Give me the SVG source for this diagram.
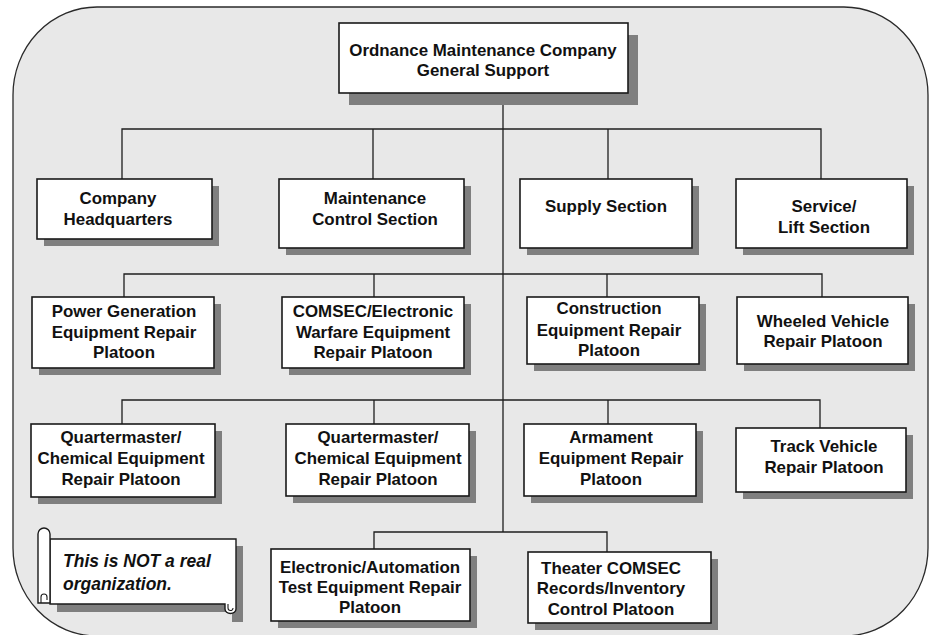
<svg xmlns="http://www.w3.org/2000/svg" width="929" height="635" viewBox="0 0 929 635">
  <style>
    .frame { fill: #e8e8e8; stroke: #2a2a2a; stroke-width: 1.3; }
    .shadow { fill: #7f7f7f; }
    .box { fill: #ffffff; stroke: #1a1a1a; stroke-width: 1.6; }
    .wire { fill: none; stroke: #1e1e1e; stroke-width: 1.3; }
    .t { font-family: "Liberation Sans", Arial, sans-serif; font-weight: bold; font-size: 16.9px; text-anchor: middle; fill: #111; }
    .note { font-family: "Liberation Sans", Arial, sans-serif; font-weight: bold; font-style: italic; font-size: 17.5px; fill: #111; }
    .scroll { fill: #ffffff; stroke: #1a1a1a; stroke-width: 1.4; }
  </style>

  <rect x="0" y="0" width="929" height="635" fill="#ffffff"/>
  <!-- rounded backdrop -->
  <rect class="frame" x="13" y="7" width="915" height="629" rx="84" ry="88"/>

  <!-- connectors -->
  <g id="connectors" class="wire">
    <line x1="503" y1="93" x2="503" y2="532"/>
    <!-- tier 1 -->
    <polyline points="122,179 122,129 821,129 821,179"/>
    <line x1="373" y1="129" x2="373" y2="179"/>
    <line x1="608" y1="129" x2="608" y2="179"/>
    <!-- tier 2 -->
    <polyline points="124,297 124,274 822,274 822,297"/>
    <line x1="374" y1="274" x2="374" y2="297"/>
    <line x1="607" y1="274" x2="607" y2="297"/>
    <!-- tier 3 -->
    <polyline points="122,424 122,400 820,400 820,428"/>
    <line x1="374" y1="400" x2="374" y2="424"/>
    <line x1="608" y1="400" x2="608" y2="424"/>
    <!-- tier 4 -->
    <polyline points="374,549 374,532 607,532 607,552"/>
  </g>

  <g id="ordnance-company">
    <rect class="shadow" x="349" y="35" width="289" height="70"/>
    <rect class="box" x="339" y="23" width="289" height="70"/>
    <text class="t" x="483" y="56">Ordnance Maintenance Company</text>
    <text class="t" x="483" y="76">General Support</text>
  </g>

  <g id="company-hq">
    <rect class="shadow" x="44" y="186" width="175" height="60"/>
    <rect class="box" x="37" y="179" width="175" height="60"/>
    <text class="t" x="118" y="204">Company</text>
    <text class="t" x="118" y="225">Headquarters</text>
  </g>

  <g id="maintenance-control">
    <rect class="shadow" x="286" y="186" width="185" height="69"/>
    <rect class="box" x="279" y="179" width="185" height="69"/>
    <text class="t" x="375" y="204">Maintenance</text>
    <text class="t" x="375" y="225">Control Section</text>
  </g>

  <g id="supply-section">
    <rect class="shadow" x="527" y="186" width="172" height="69"/>
    <rect class="box" x="520" y="179" width="172" height="69"/>
    <text class="t" x="606" y="212">Supply Section</text>
  </g>

  <g id="service-lift">
    <rect class="shadow" x="743" y="186" width="171" height="69"/>
    <rect class="box" x="736" y="179" width="171" height="69"/>
    <text class="t" x="824" y="212">Service/</text>
    <text class="t" x="824" y="233">Lift Section</text>
  </g>

  <g id="power-generation">
    <rect class="shadow" x="39" y="304" width="182" height="71"/>
    <rect class="box" x="32" y="297" width="182" height="71"/>
    <text class="t" x="124" y="317">Power Generation</text>
    <text class="t" x="124" y="338">Equipment Repair</text>
    <text class="t" x="124" y="358">Platoon</text>
  </g>

  <g id="comsec-ew">
    <rect class="shadow" x="289" y="304" width="182" height="71"/>
    <rect class="box" x="282" y="297" width="182" height="71"/>
    <text class="t" x="373" y="317">COMSEC/Electronic</text>
    <text class="t" x="373" y="338">Warfare Equipment</text>
    <text class="t" x="373" y="358">Repair Platoon</text>
  </g>

  <g id="construction">
    <rect class="shadow" x="534" y="304" width="172" height="67"/>
    <rect class="box" x="527" y="297" width="172" height="67"/>
    <text class="t" x="609" y="314">Construction</text>
    <text class="t" x="609" y="336">Equipment Repair</text>
    <text class="t" x="609" y="356">Platoon</text>
  </g>

  <g id="wheeled-vehicle">
    <rect class="shadow" x="744" y="304" width="171" height="67"/>
    <rect class="box" x="737" y="297" width="171" height="67"/>
    <text class="t" x="823" y="327">Wheeled Vehicle</text>
    <text class="t" x="823" y="347">Repair Platoon</text>
  </g>

  <g id="quartermaster-1">
    <rect class="shadow" x="38" y="431" width="184" height="73"/>
    <rect class="box" x="31" y="424" width="184" height="73"/>
    <text class="t" x="121" y="443">Quartermaster/</text>
    <text class="t" x="121" y="464">Chemical Equipment</text>
    <text class="t" x="121" y="485">Repair Platoon</text>
  </g>

  <g id="quartermaster-2">
    <rect class="shadow" x="293" y="431" width="183" height="72"/>
    <rect class="box" x="286" y="424" width="183" height="72"/>
    <text class="t" x="378" y="443">Quartermaster/</text>
    <text class="t" x="378" y="464">Chemical Equipment</text>
    <text class="t" x="378" y="485">Repair Platoon</text>
  </g>

  <g id="armament">
    <rect class="shadow" x="531" y="431" width="172" height="72"/>
    <rect class="box" x="524" y="424" width="172" height="72"/>
    <text class="t" x="611" y="443">Armament</text>
    <text class="t" x="611" y="464">Equipment Repair</text>
    <text class="t" x="611" y="485">Platoon</text>
  </g>

  <g id="track-vehicle">
    <rect class="shadow" x="743" y="435" width="170" height="64"/>
    <rect class="box" x="736" y="428" width="170" height="64"/>
    <text class="t" x="824" y="452">Track Vehicle</text>
    <text class="t" x="824" y="473">Repair Platoon</text>
  </g>

  <g id="electronic-automation">
    <rect class="shadow" x="278" y="556" width="199" height="72"/>
    <rect class="box" x="271" y="549" width="199" height="72"/>
    <text class="t" x="370" y="573">Electronic/Automation</text>
    <text class="t" x="370" y="593">Test Equipment Repair</text>
    <text class="t" x="370" y="613">Platoon</text>
  </g>

  <g id="theater-comsec">
    <rect class="shadow" x="535" y="559" width="183" height="71"/>
    <rect class="box" x="528" y="552" width="183" height="71"/>
    <text class="t" x="611" y="574">Theater COMSEC</text>
    <text class="t" x="611" y="594">Records/Inventory</text>
    <text class="t" x="611" y="615">Control Platoon</text>
  </g>

  <!-- scroll note -->
  <g id="scroll-note">
    <path class="shadow" d="M57,546 H243 V622 H232 V612 H57 Z"/>
    <path class="scroll" d="M50,539 H236 V609 A5.5,4.5 0 0 1 225,609 V604 H50 Z"/>
    <path fill="none" stroke="#1a1a1a" stroke-width="1.1" d="M228,604 V608 A2.5,2.5 0 0 0 233,608"/>
    <path class="scroll" d="M38,534 A6,6 0 0 1 50,534 V603 H38 Z"/>
    <path fill="none" stroke="#1a1a1a" stroke-width="1.1" d="M41,603 V597 A3,3 0 0 1 47,597 V600"/>
    <text class="note" x="63" y="567">This is NOT a real</text>
    <text class="note" x="63" y="590">organization.</text>
  </g>
</svg>
